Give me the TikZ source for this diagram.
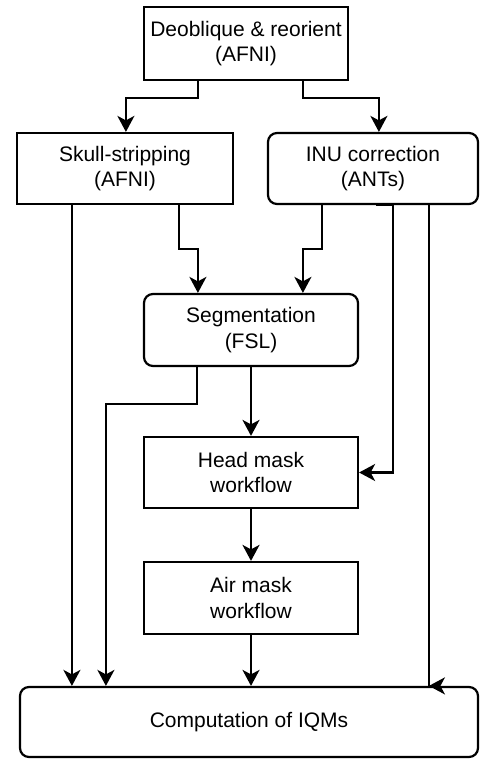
\documentclass[tikz,border=0pt]{standalone}
\usepackage{fontspec}
\setmainfont{Liberation Sans}
\usetikzlibrary{arrows.meta,calc}
\begin{document}
\begin{tikzpicture}[x=1pt,y=-1pt,
  every node/.style={font=\fontsize{21}{25.5}\selectfont},
  box/.style={draw,line width=2.2pt,align=center,inner sep=0pt},
  rbox/.style={box,rounded corners=9pt},
  conn/.style={line width=2.2pt},
  arr/.style={conn,-{Stealth[length=16pt,width=17pt,inset=4.5pt]}}]
\useasboundingbox (0,0) rectangle (479,759);
\node[box,minimum width=204,minimum height=73] (top) at (246,43.5) {Deoblique \& reorient\\(AFNI)};
\node[box,minimum width=216,minimum height=71] (skull) at (125,168.5) {Skull-stripping\\(AFNI)};
\node[rbox,minimum width=210,minimum height=71] (inu) at (373,168.5) {INU correction\\(ANTs)};
\node[rbox,minimum width=214,minimum height=72] (seg) at (251,330) {Segmentation\\(FSL)};
\node[box,minimum width=214,minimum height=71] (head) at (251,472.5) {Head mask\\workflow};
\node[box,minimum width=214,minimum height=72] (air) at (251,598) {Air mask\\workflow};
\node[rbox,minimum width=458,minimum height=70] (comp) at (249,722) {Computation of IQMs};
% top -> skull / inu
\draw[arr] ($(top.south west)+(55,0)$) -- ++(0,17) -| ($(skull.north west)+(110,0)$);
\draw[arr] ($(top.south west)+(160,0)$) -- ++(0,17) -| ($(inu.north west)+(112,0)$);
% skull outputs
\coordinate (s1) at ($(skull.south west)+(56,0)$);
\draw[arr] (s1) -- (s1 |- comp.north);
\draw[arr] ($(skull.south west)+(163,0)$) -- ++(0,44) -| ($(seg.north west)+(55,0)$);
% inu outputs
\draw[arr] ($(inu.south west)+(55,0)$) -- ++(0,44) -| ($(seg.north west)+(160,0)$);
\coordinate (i2) at ($(inu.south west)+(126,0)$);
\draw[arr] ($(inu.south west)+(109,0)$) -- (i2) -- (i2 |- head.east) -- (head.east);
\coordinate (i4) at ($(inu.south west)+(162,0)$);
\draw[conn] (i4) -- (i4 |- comp.north);
\draw[arr] ($(i4 |- comp.north)+(1,0)$) -- (i4 |- comp.north);
% seg outputs
\coordinate (g1) at ($(seg.south west)+(54,0)$);
\coordinate (g2) at ($(g1)+(0,37)$);
\coordinate (g3) at ($(comp.north west)+(87,0)$);
\draw[arr] (g1) -- (g2) -| (g3);
\draw[arr] (seg.south) -- (head.north);
\draw[arr] (head.south) -- (air.north);
\draw[arr] (air.south) -- (air.south |- comp.north);
\end{tikzpicture}
\end{document}
